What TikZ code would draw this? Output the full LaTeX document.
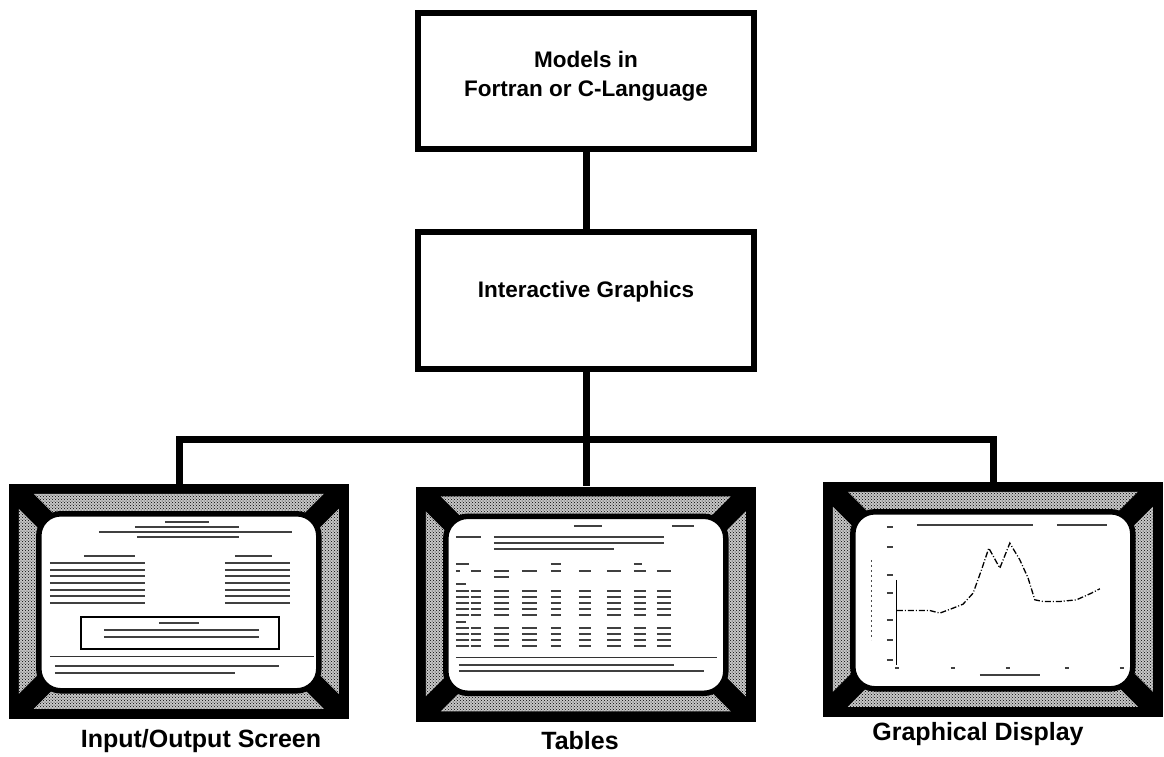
\documentclass[tikz,border=0pt]{standalone}
\usepackage{fontspec}
\setmainfont{Liberation Sans}
\usetikzlibrary{patterns}

\tikzset{
 flowbox/.style={draw=black, line width=6pt, fill=white, minimum width=336pt, minimum height=136pt, inner sep=0pt},
 boxtext/.style={font=\fontsize{22.5}{29}\selectfont\bfseries, align=center, inner sep=0pt},
 capt/.style={font=\fontsize{25}{30}\selectfont\bfseries, inner sep=0pt},
 wire/.style={line width=7pt, line join=miter},
 monitor/.style={fill=black, draw=none, minimum width=340pt, minimum height=235pt, inner sep=0pt},
 bezelpanel/.style={preaction={fill=black!22}, pattern=crosshatch dots, pattern color=black},
 crtscreen/.style={fill=white, draw=black, line width=5.5pt, rounded corners=22pt},
 txt/.style={draw=black!75, line width=1.8pt},
 thinrule/.style={draw=black!80, line width=1.2pt},
}

\newcommand\monitorbezel{%
 \fill[bezelpanel] (25,10) -- (315,10) -- (285,40) -- (55,40) -- cycle;
 \fill[bezelpanel] (25,225) -- (315,225) -- (285,195) -- (55,195) -- cycle;
 \fill[bezelpanel] (10,25) -- (40,55) -- (40,180) -- (10,210) -- cycle;
 \fill[bezelpanel] (330,25) -- (300,55) -- (300,180) -- (330,210) -- cycle;
 \path[crtscreen] (30,30) rectangle (310,207);
}

\begin{document}
\begin{tikzpicture}[x=1pt, y=-1pt]
\useasboundingbox (0,0) rectangle (1164,756);

% boxes
\node[flowbox] (b1) at (586,81) {};
\node[boxtext] (t1) at (586,76) {Models in\\Fortran or C-Language};
\node[flowbox, minimum height=137pt] (b2) at (586,300.5) {};
\node[boxtext] (t2) at (586,292) {Interactive Graphics};

% monitors
\node[monitor] (m1) at (179,601.5) {};
\node[monitor] (m2) at (586,604) {};
\node[monitor] (m3) at (993,599.5) {};

% connectors
\coordinate (hub) at (586,439);
\draw[wire] (b1.south) -- (b2.north);
\draw[wire] (b2.south) -- (m2.north);
\draw[wire] (m1.north) |- (hub) -| (m3.north);

% ---- monitor 1: input/output screen
\begin{scope}[shift={(m1.north west)}]
 \monitorbezel
 \draw[txt] (156,38) -- (200,38);
 \draw[txt] (126,43) -- (230,43);
 \draw[txt] (90,48) -- (283,48);
 \draw[txt] (128,53) -- (230,53);
 \draw[txt] (75,72) -- (126,72);
 \draw[txt] (226,72) -- (263,72);
 \foreach \yy in {79,86,92,99,106,112,119} {
   \draw[txt] (41,\yy) -- (136,\yy);
   \draw[txt] (216,\yy) -- (281,\yy);
 }
 \draw[black, line width=1.4pt] (72,133) rectangle (270,165);
 \draw[txt] (150,139) -- (190,139);
 \draw[txt] (95,146) -- (250,146);
 \draw[txt] (95,153) -- (250,153);
 \draw[thinrule] (41,173) -- (305,173);
 \draw[txt] (46,182) -- (270,182);
 \draw[txt] (46,189) -- (226,189);
\end{scope}

% ---- monitor 2: tables
\begin{scope}[shift={(m2.north west)}]
 \monitorbezel
 \draw[txt] (158,40) -- (186,40);
 \draw[txt] (256,40) -- (278,40);
 \draw[txt] (40,51) -- (65,51);
 \draw[txt] (78,51) -- (248,51);
 \draw[txt] (78,57) -- (248,57);
 \draw[txt] (78,63) -- (198,63);
 \draw[txt] (40,78) -- (53,78);
 \draw[txt] (135,78) -- (145,78);
 \draw[txt] (218,78) -- (226,78);
 \foreach \xa/\xb in {40/44,55/65,78/93,106/121,135/145,163/175,191/205,218/230,241/255} {
   \draw[txt] (\xa,85) -- (\xb,85);
 }
 \draw[txt] (78,91) -- (93,91);
 \draw[txt] (40,98) -- (50,98);
 \foreach \yy in {105,111,117,123,129,142,148,154,160} {
  \foreach \xa/\xb in {40/53,55/65,78/93,106/121,135/145,163/175,191/205,218/230,241/255} {
   \draw[txt] (\xa,\yy) -- (\xb,\yy);
  }
 }
 \draw[txt] (40,136) -- (50,136);
 \draw[thinrule] (40,171) -- (301,171);
 \draw[txt] (43,179) -- (258,179);
 \draw[txt] (43,185) -- (288,185);
\end{scope}

% ---- monitor 3: graphical display
\begin{scope}[shift={(m3.north west)}]
 \monitorbezel
 \draw[txt] (94,43) -- (210,43);
 \draw[txt] (234,43) -- (284,43);
 \draw[black, line width=1pt] (74,98) -- (74,183);
 \foreach \yy in {45,65,93,111,138,158,178} {
   \draw[txt] (64,\yy) -- (70,\yy);
 }
 \draw[black!70, line width=1.2pt, dash pattern=on 2pt off 3pt] (49,78) -- (49,158);
 \foreach \xx in {74,130,185,244,299} {
   \draw[txt] (\xx-2,186) -- (\xx+2,186);
 }
 \draw[txt] (157,193) -- (217,193);
 \draw[black, line width=1.3pt, dash pattern=on 6pt off 2pt on 1pt off 2pt]
   (74,128.7) -- (107,128.7) -- (117,131.3) -- (130.3,126.3) -- (140.3,122.3)
   -- (150.3,111.3) -- (158.7,88) -- (166,66.3) -- (177,86.3) -- (187,61.3)
   -- (197,78) -- (205.3,96.3) -- (212,118) -- (220.3,119.7) -- (237,119.7)
   -- (253.7,118) -- (268.7,111.3) -- (277,107);
\end{scope}

% captions
\node[capt] (c1) at (201,741) {Input/Output Screen};
\node[capt] (c2) at (580,741) {Tables};
\node[capt] (c3) at (978,734) {Graphical Display};
\end{tikzpicture}
\end{document}
